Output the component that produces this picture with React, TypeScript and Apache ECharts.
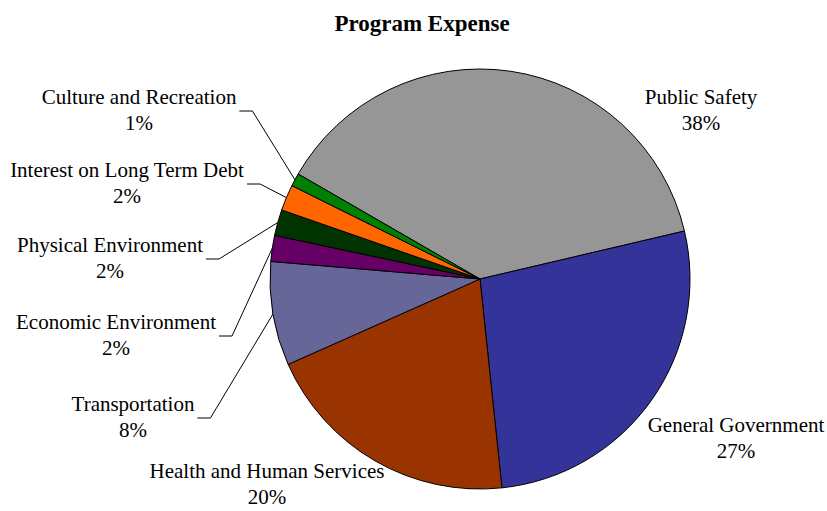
import React, { useEffect, useRef } from "react";
import * as echarts from "echarts";

const title = "Program Expense";
const categories = [
  "Public Safety",
  "General Government",
  "Health and Human Services",
  "Transportation",
  "Economic Environment",
  "Physical Environment",
  "Interest on Long Term Debt",
  "Culture and Recreation",
];
const values = [38, 27, 20, 8, 2, 2, 2, 1];
const colors = ["#969696", "#333399", "#993300", "#666699", "#660066", "#003300", "#FF6600", "#008000"];
const labelCenters = [
  [701, 110],
  [736, 438],
  [267, 484],
  [133, 417],
  [116, 335],
  [110, 258],
  [127, 183],
  [139, 110],
];
const hasLeader = [false, false, false, true, true, true, true, true];

const FONT = "'Liberation Serif', 'Times New Roman', serif";

export default function App() {
  const ref = useRef<HTMLDivElement>(null);
  useEffect(() => {
    if (!ref.current) return;
    const chart = echarts.init(ref.current, undefined, { renderer: "svg" });
    chart.setOption({
      animation: false,
      backgroundColor: "#ffffff",
      title: {
        text: title,
        left: 417,
        top: 7,
        textAlign: "center",
        textStyle: { fontFamily: FONT, fontWeight: "bold", fontSize: 23, color: "#000" },
      },
      series: [
        {
          type: "pie",
          center: [480, 279],
          radius: 210,
          startAngle: 150,
          clockwise: true,
          avoidLabelOverlap: false,
          percentPrecision: 0,
          itemStyle: { borderColor: "#000", borderWidth: 1 },
          label: {
            show: true,
            position: "outside",
            formatter: "{b}\n{d}%",
            fontFamily: FONT,
            fontSize: 21,
            lineHeight: 26,
            color: "#000",
            align: "center",
          },
          labelLine: { show: true, lineStyle: { color: "#000", width: 1 } },
          emphasis: { disabled: true },
          labelLayout: (p: any) => {
            const i = p.dataIndex;
            const [cx, cy] = labelCenters[i];
            const res: any = { x: cx, y: cy, align: "center", verticalAlign: "middle" };
            if (hasLeader[i] && p.labelLinePoints) {
              const right = cx + p.labelRect.width / 2 + 3;
              const ly = cy + 1;
              res.labelLinePoints = [p.labelLinePoints[0], [right + 13, ly], [right, ly]];
            }
            return res;
          },
          data: categories.map((name, i) => ({
            name,
            value: values[i],
            itemStyle: { color: colors[i] },
            labelLine: { show: hasLeader[i] },
          })),
        },
      ],
    });
    return () => chart.dispose();
  }, []);
  return (
    <div
      ref={ref}
      style={{ position: "absolute", left: 0, top: 0, width: 827, height: 511 }}
    />
  );
}
